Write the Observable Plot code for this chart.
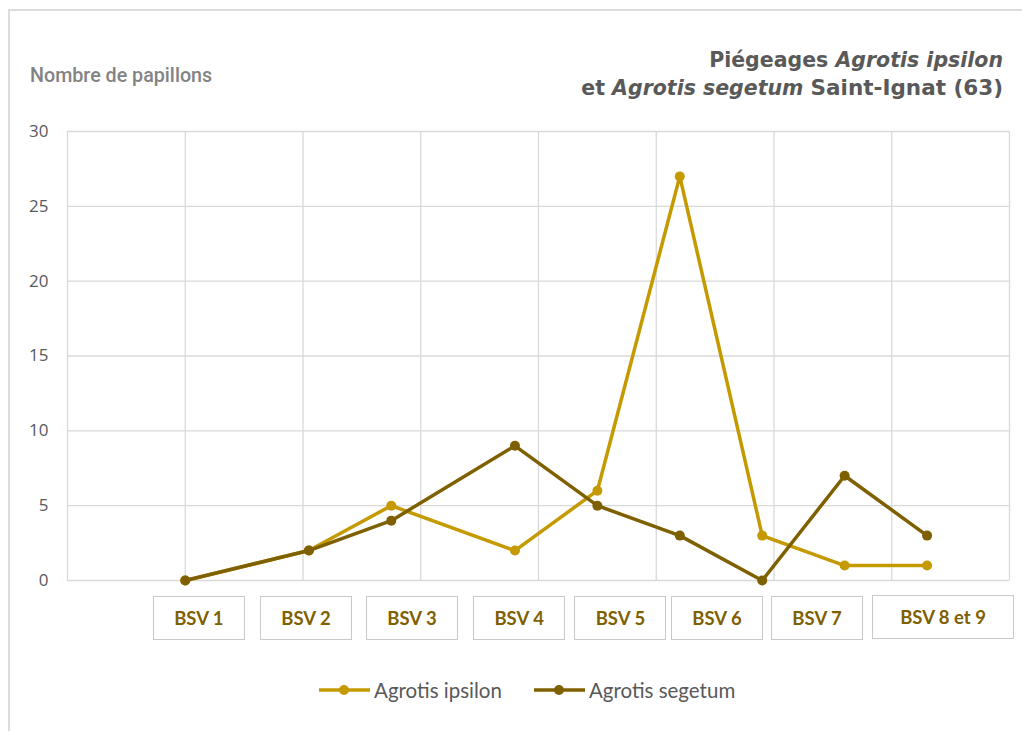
<!DOCTYPE html>
<html>
<head>
<meta charset="utf-8">
<script src="https://cdn.jsdelivr.net/npm/d3@7"></script>
<script src="https://cdn.jsdelivr.net/npm/@observablehq/plot@0.6"></script>
<style>
  body { margin: 0; background: #fff; }
  #wrap { position: relative; width: 1022px; height: 731px; overflow: hidden; background: #fff; }
  #frame { position: absolute; left: 8px; top: 9px; width: 1100px; height: 800px; border: 2px solid #dcdcdc; box-sizing: border-box; }
  #chart { position: absolute; left: 0; top: 0; }
  #title { position: absolute; right: 19px; top: 46px; text-align: right; font-family: "DejaVu Sans", sans-serif; font-weight: bold; font-size: 20.5px; line-height: 28px; color: #595959; white-space: nowrap; }
  #ylabel { position: absolute; left: 30px; top: 65px; font-family: Roboto, "Liberation Sans", sans-serif; font-weight: 500; font-size: 19.7px; line-height: 22px; color: #838383; white-space: nowrap; }
  .bsv { position: absolute; box-sizing: border-box; height: 44px; border: 1.5px solid #c9c9c9; background: #fff; font-family: Lato, sans-serif; font-weight: bold; font-size: 18.5px; color: #7f6000; display: flex; align-items: center; justify-content: center; white-space: nowrap; }
  #legend { position: absolute; left: 319px; top: 678px; display: flex; align-items: center; font-family: Lato, sans-serif; font-size: 20.5px; color: #595959; white-space: nowrap; }
  .item { display: flex; align-items: center; }
  .item svg { margin-right: 4px; }
</style>
</head>
<body>
<div id="wrap">
  <div id="frame"></div>
  <div id="chart"></div>
  <div id="ylabel">Nombre de papillons</div>
  <div id="title">Piégeages <i>Agrotis ipsilon</i><br>et <i>Agrotis segetum</i> <span style="font-size:21.5px">Saint-Ignat (63)</span></div>
  <div id="legend"></div>
</div>
<script>
// Relevés (jours depuis le début de l'échelle)
const days = [10, 20.5, 27.5, 38, 45, 52, 59, 66, 73];
const ipsilon = [0, 2, 5, 2, 6, 27, 3, 1, 1];
const segetum = [0, 2, 4, 9, 5, 3, 0, 7, 3];

// Étiquettes BSV (centre en jours sur l'échelle)
const bsvLabels = ["BSV 1", "BSV 2", "BSV 3", "BSV 4", "BSV 5", "BSV 6", "BSV 7", "BSV 8 et 9"];
const bsvCenters = [11.2, 20.3, 29.3, 38.4, 47.0, 55.2, 63.7, 74.4];

const seriesNames = ["Agrotis ipsilon", "Agrotis segetum"];
const seriesColors = ["#C49A00", "#7F6000"];

const yTicks = [0, 5, 10, 15, 20, 25, 30];
const xGrid = [0, 10, 20, 30, 40, 50, 60, 70, 80];

const rowsI = days.map((d, i) => ({day: d, n: ipsilon[i]}));
const rowsS = days.map((d, i) => ({day: d, n: segetum[i]}));

const chart = Plot.plot({
  width: 1022,
  height: 731,
  marginTop: 131,
  marginBottom: 151,
  marginLeft: 67,
  marginRight: 13,
  style: {fontFamily: "'Open Sans', sans-serif", fontSize: "17px", color: "#595959", background: "transparent", overflow: "visible"},
  x: {domain: [0, 80], axis: null},
  y: {domain: [0, 30], ticks: yTicks, tickSize: 0, tickPadding: 19, label: null},
  marks: [
    Plot.gridX(xGrid, {stroke: "#d9d9d9", strokeOpacity: 1, strokeWidth: 1.3}),
    Plot.gridY(yTicks, {stroke: "#d9d9d9", strokeOpacity: 1, strokeWidth: 1.3}),
    Plot.line(rowsI, {x: "day", y: "n", stroke: seriesColors[0], strokeWidth: 3.5}),
    Plot.dot(rowsI, {x: "day", y: "n", fill: seriesColors[0], r: 5}),
    Plot.line(rowsS, {x: "day", y: "n", stroke: seriesColors[1], strokeWidth: 3.5}),
    Plot.dot(rowsS, {x: "day", y: "n", fill: seriesColors[1], r: 5})
  ]
});
document.getElementById("chart").appendChild(chart);

// BSV boxes positioned through the chart's own scales
const xs = chart.scale("x");
const ys = chart.scale("y");
const wrap = document.getElementById("wrap");
const y0 = ys.apply(0);
bsvLabels.forEach((lab, i) => {
  const w = 42 + 10 * lab.length;
  const cx = xs.apply(bsvCenters[i]);
  const div = document.createElement("div");
  div.className = "bsv";
  div.textContent = lab;
  div.style.left = (cx - w / 2) + "px";
  div.style.width = w + "px";
  div.style.top = (y0 + 16 - (i === bsvLabels.length - 1 ? 1.5 : 0)) + "px";
  wrap.appendChild(div);
});

// Legend
const legend = document.getElementById("legend");
seriesNames.forEach((name, i) => {
  const item = document.createElement("div");
  item.className = "item";
  if (i > 0) item.style.marginLeft = "32px";
  item.innerHTML = `<svg width="51" height="12"><line x1="0" y1="6" x2="51" y2="6" stroke="${seriesColors[i]}" stroke-width="3.5"/><circle cx="25" cy="6" r="5" fill="${seriesColors[i]}"/></svg><span>${name}</span>`;
  legend.appendChild(item);
});
</script>
</body>
</html>
